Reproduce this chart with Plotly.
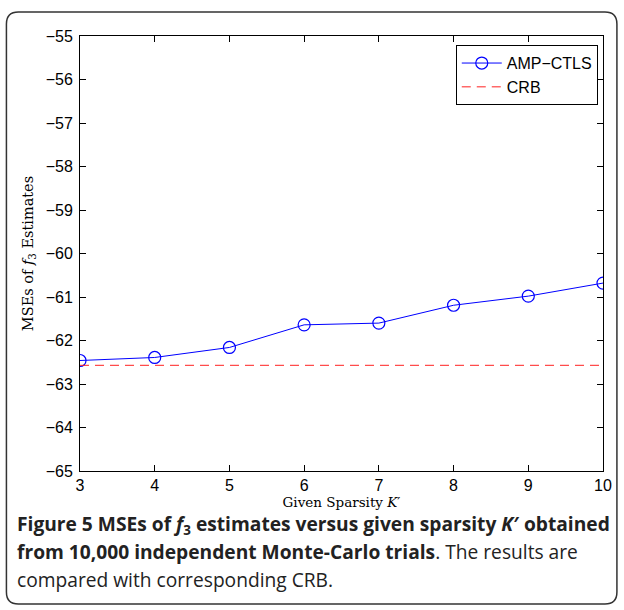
import plotly.graph_objects as go

# Given sparsity K' and the resulting MSEs (dB) of the f3 estimates
sparsity = [3, 4, 5, 6, 7, 8, 9, 10]
mse_amp_ctls = [-62.46, -62.39, -62.16, -61.64, -61.60, -61.19, -60.98, -60.68]
crb_level = -62.57
crb = [crb_level] * len(sparsity)

x_ticks = [3, 4, 5, 6, 7, 8, 9, 10]
y_ticks = [-55, -56, -57, -58, -59, -60, -61, -62, -63, -64, -65]

W, H = 624, 610
L, R, T, B = 80, 18, 36, 139
pw, ph = W - L - R, H - T - B


def px(xp):
    return (xp - L) / pw


def py(yp):
    return (H - B - yp) / ph


fig = go.Figure()
fig.add_trace(go.Scatter(
    x=sparsity, y=mse_amp_ctls, name="AMP\u2212CTLS", mode="lines+markers",
    line=dict(color="#0000ff", width=1),
    marker=dict(symbol="circle-open", size=12, color="#0000ff", line=dict(width=1.2)),
))
fig.add_trace(go.Scatter(
    x=sparsity, y=crb, name="CRB", mode="lines",
    line=dict(color="#ff2020", width=1, dash="9px,6px"),
))

axis_common = dict(
    showline=True, linecolor="black", linewidth=1, mirror="ticks",
    ticks="inside", ticklen=6, tickcolor="black", tickwidth=1,
    showgrid=False, zeroline=False,
    tickfont=dict(family="Liberation Sans, Arial, sans-serif", size=16, color="black"),
)

fig.update_layout(
    width=W, height=H,
    margin=dict(l=L, r=R, t=T, b=B),
    paper_bgcolor="white", plot_bgcolor="white",
    showlegend=True,
    legend=dict(
        x=0.99, y=0.979, xanchor="right", yanchor="top",
        bgcolor="white", bordercolor="black", borderwidth=1,
        font=dict(family="Liberation Sans, Arial, sans-serif", size=16, color="black"),
        tracegroupgap=0, itemwidth=40,
    ),
    xaxis=dict(
        range=[3, 10], tickvals=x_ticks, **axis_common,
        title=dict(text="Given Sparsity <i>K</i>\u2032", standoff=0,
                   font=dict(family="DejaVu Serif, Liberation Serif, serif", size=13.5, color="black")),
    ),
    yaxis=dict(
        range=[-65, -55], tickvals=y_ticks, ticklabelstandoff=3, **axis_common,
        title=dict(text="MSEs of <i>f</i><sub>3</sub> Estimates", standoff=8,
                   font=dict(family="DejaVu Serif, Liberation Serif, serif", size=14.5, color="black")),
    ),
)

# Rounded outer frame around figure and caption
x0, x1 = px(6), px(620)
y0, y1 = py(604), py(12)
rx, ry = 12 / pw, 12 / ph
path = (f"M {x0 + rx},{y1} L {x1 - rx},{y1} Q {x1},{y1} {x1},{y1 - ry} "
        f"L {x1},{y0 + ry} Q {x1},{y0} {x1 - rx},{y0} "
        f"L {x0 + rx},{y0} Q {x0},{y0} {x0},{y0 + ry} "
        f"L {x0},{y1 - ry} Q {x0},{y1} {x0 + rx},{y1} Z")
fig.add_shape(type="path", path=path, xref="paper", yref="paper",
              line=dict(color="#333333", width=1.5), layer="below")

cap_font = dict(family="Open Sans, Lato, sans-serif", size=19.2, color="#222222")
caption_lines = [
    "<b>Figure 5 MSEs of <i>f</i><sub>3</sub> estimates versus given sparsity <i>K</i>\u2032 obtained</b>",
    "<b>from 10,000 independent Monte-Carlo trials</b>. The results are",
    "compared with corresponding CRB.",
]
for i, line in enumerate(caption_lines):
    fig.add_annotation(text=line, xref="paper", yref="paper",
                       x=px(15), y=py(524 + 27.5 * i), xanchor="left", yanchor="middle",
                       showarrow=False, font=cap_font, align="left")

fig.write_html("out.html")
